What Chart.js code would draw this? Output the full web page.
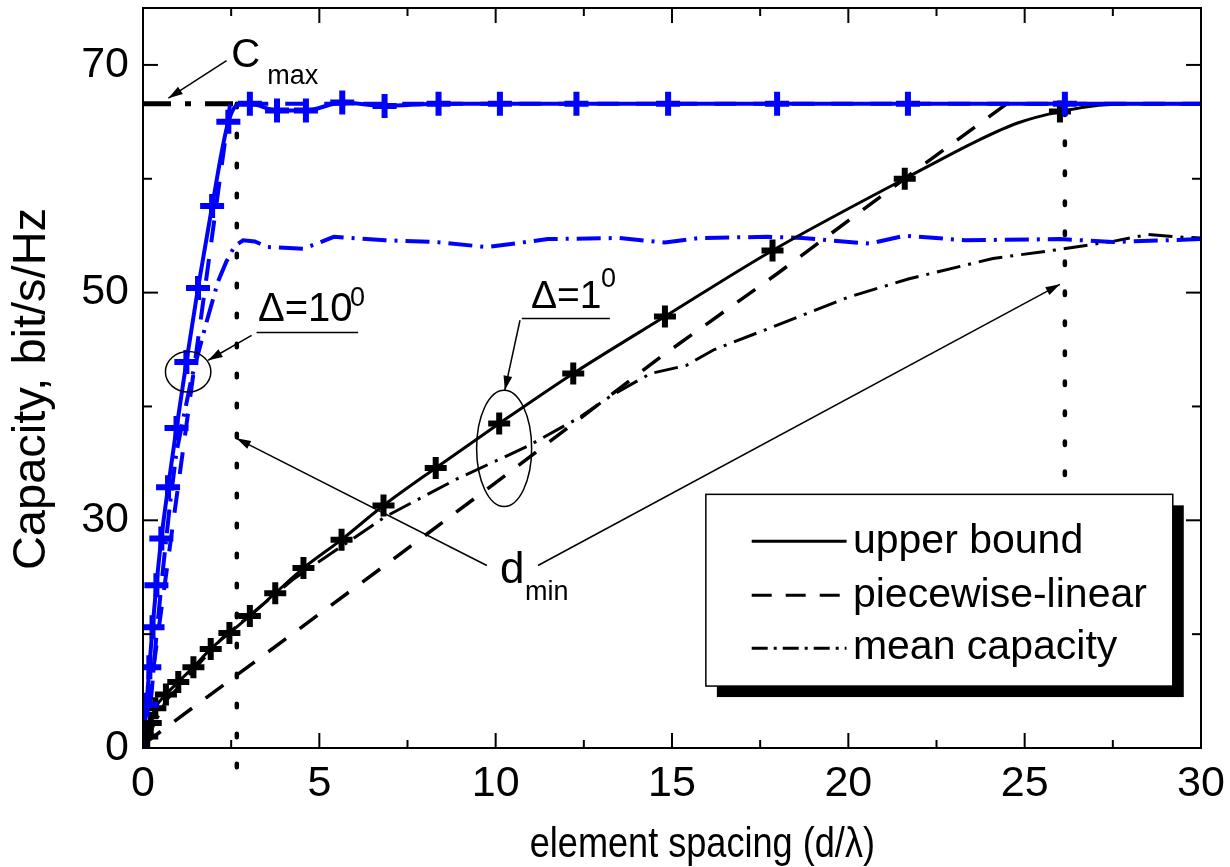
<!DOCTYPE html>
<html>
<head>
<meta charset="utf-8">
<script src="https://cdn.jsdelivr.net/npm/chart.js@4.4.0/dist/chart.umd.min.js"></script>
<style>
  html, body { margin: 0; padding: 0; background: #fff; }
  #chart { display: block; }
</style>
</head>
<body>
<canvas id="chart" width="1230" height="867"></canvas>
<script>
const FONT = "'Liberation Sans', Arial, Helvetica, sans-serif";
const BLUE = '#0000ff';

// axis ticks
const xMajor = [0, 5, 10, 15, 20, 25, 30];
const xMinor = [2.5, 7.5, 12.5, 17.5, 22.5, 27.5];
const yMajor = [10, 30, 50, 70];
const yMinor = [20, 40, 60];
const yTickText = ['0', '30', '50', '70'];

// delta = 1 deg (black)
const upper1X = [0, 0.12, 0.22, 0.35, 0.65, 1.0, 1.43, 1.92, 2.45, 3.03, 3.75, 4.55, 5.63, 6.82, 8.3, 10.1, 12.2, 14.8, 17.85, 21.6, 23.7, 24.8, 26.0, 27.1, 28.0, 30];
const upper1Y = [10.1, 11.0, 12.2, 13.5, 14.7, 15.8, 17.1, 18.7, 20.1, 21.6, 23.6, 25.8, 28.3, 31.3, 34.6, 38.5, 42.9, 47.9, 53.7, 60.0, 63.4, 64.9, 65.9, 66.45, 66.6, 66.6];
const upper1MarkX = [0.12, 0.22, 0.35, 0.65, 1.0, 1.43, 1.92, 2.45, 3.03, 3.75, 4.55, 5.63, 6.82, 8.3, 10.1, 12.2, 14.8, 17.85, 21.6, 26.0];
const upper1MarkY = [11.0, 12.2, 13.5, 14.7, 15.8, 17.1, 18.7, 20.1, 21.6, 23.6, 25.8, 28.3, 31.3, 34.6, 38.5, 42.9, 47.9, 53.7, 60.0, 65.9];
const pw1X = [0, 6.8, 10.3, 14.7, 18.0, 22.2, 24.5, 30];
const pw1Y = [10.3, 25.9, 34.0, 44.4, 51.7, 61.4, 66.6, 66.6];
const mean1X = [0, 0.64, 2.23, 4.25, 6.86, 8.88, 10.9, 12.36, 13.3, 14.4, 15.4, 16.2, 17.7, 20.0, 21.7, 24.1, 26.0, 27.5, 28.5, 29.3, 30];
const mean1Y = [10.1, 14.1, 19.6, 24.8, 30.3, 33.6, 36.5, 39.0, 41.0, 42.9, 43.6, 45.0, 46.8, 49.6, 51.2, 53.0, 53.8, 54.5, 55.1, 54.9, 54.8];

// delta = 10 deg (blue)
const upper10X = [0, 0.1, 0.18, 0.27, 0.38, 0.52, 0.71, 0.95, 1.23, 1.56, 1.96, 2.42, 2.75, 3.03, 3.8, 4.62, 5.65, 6.85, 8.38, 10.12, 12.29, 14.89, 17.98, 21.69, 26.14, 30];
const upper10Y = [10.1, 13.8, 17.1, 20.6, 24.3, 28.4, 32.9, 38.1, 43.9, 50.4, 57.6, 65.0, 66.6, 66.6, 66.0, 66.0, 66.7, 66.4, 66.6, 66.6, 66.6, 66.6, 66.6, 66.6, 66.6, 66.6];
const upper10MarkX = [0.1, 0.18, 0.27, 0.38, 0.52, 0.71, 0.95, 1.23, 1.56, 1.96, 2.42, 3.03, 3.8, 4.62, 5.65, 6.85, 8.38, 10.12, 12.29, 14.89, 17.98, 21.69, 26.14];
const upper10MarkY = [13.8, 17.1, 20.6, 24.3, 28.4, 32.9, 38.1, 43.9, 50.4, 57.6, 65.0, 66.6, 66.0, 66.0, 66.7, 66.4, 66.6, 66.6, 66.6, 66.6, 66.6, 66.6, 66.6];
const pw10X = [0, 1.0, 2.47, 30];
const pw10Y = [10.3, 33.1, 66.6, 66.6];
const mean10X = [0, 0.24, 0.38, 0.57, 0.76, 0.95, 1.37, 1.8, 2.13, 2.36, 2.6, 2.84, 3.17, 3.53, 4.55, 5.41, 6.86, 8.3, 9.75, 11.48, 13.5, 14.8, 15.8, 17.7, 18.7, 20.6, 21.6, 23.3, 26.0, 27.5, 30];
const mean10Y = [10.1, 14.7, 19.9, 25.8, 31.3, 36.0, 42.4, 47.4, 51.0, 52.7, 54.1, 54.6, 54.5, 54.0, 53.85, 54.9, 54.6, 54.45, 54.0, 54.7, 54.8, 54.4, 54.8, 54.9, 54.8, 54.3, 55.0, 54.6, 54.7, 54.45, 54.7];

// C_max level and d_min markers
const cmaxX = [0, 2.66];
const cmaxY = [66.6, 66.6];
const dminLoX = [2.66, 2.66];
const dminLoY = [66.6, 8.0];
const dminHiX = [26.14, 26.14];
const dminHiY = [65.9, 33.1];

const legendItems = ['upper bound', 'piecewise-linear', 'mean capacity'];

function pts(xs, ys) {
    return xs.map((x, i) => ({ x: x, y: ys[i] }));
}

function line(xs, ys, color, width, dash, extra) {
    return Object.assign({
        data: pts(xs, ys),
        borderColor: color,
        borderWidth: width,
        borderDash: dash,
        pointRadius: 0,
        fill: false,
        tension: 0
    }, extra || {});
}

function marks(xs, ys, color, r) {
    return {
        data: pts(xs, ys),
        showLine: false,
        pointStyle: 'cross',
        pointRadius: r,
        pointBorderWidth: 6,
        borderColor: color,
        backgroundColor: color
    };
}

const DASHDOT = [24, 8, 3, 8];
const DASHED = [22, 17];

function arrow(ctx, x1, y1, x2, y2) {
    ctx.beginPath();
    ctx.moveTo(x1, y1);
    ctx.lineTo(x2, y2);
    ctx.stroke();
    const ang = Math.atan2(y2 - y1, x2 - x1);
    const h = 15;
    ctx.beginPath();
    ctx.moveTo(x2, y2);
    ctx.lineTo(x2 - h * Math.cos(ang - 0.3), y2 - h * Math.sin(ang - 0.3));
    ctx.lineTo(x2 - h * Math.cos(ang + 0.3), y2 - h * Math.sin(ang + 0.3));
    ctx.closePath();
    ctx.fill();
}

// sx squeezes the glyphs sideways, the source figure uses a narrow face
function text(ctx, s, x, y, size, align, base, sx) {
    ctx.save();
    ctx.translate(x, y);
    ctx.scale(sx || 1, 1);
    ctx.font = size + 'px ' + FONT;
    ctx.textAlign = align || 'left';
    ctx.textBaseline = base || 'alphabetic';
    ctx.fillText(s, 0, 0);
    ctx.restore();
}

const decor = {
    id: 'decor',
    afterDatasetsDraw(chart) {
        const { ctx, chartArea: a, scales } = chart;
        const X = v => scales.x.getPixelForValue(v);
        const Y = v => scales.y.getPixelForValue(v);
        ctx.save();
        ctx.strokeStyle = '#000';
        ctx.fillStyle = '#000';

        // frame + inward ticks
        ctx.lineWidth = 2;
        ctx.strokeRect(a.left, a.top, a.right - a.left, a.bottom - a.top);
        const seg = (x1, y1, x2, y2) => { ctx.beginPath(); ctx.moveTo(x1, y1); ctx.lineTo(x2, y2); ctx.stroke(); };
        xMajor.forEach(v => { seg(X(v), a.bottom, X(v), a.bottom - 15); seg(X(v), a.top, X(v), a.top + 15); });
        xMinor.forEach(v => { seg(X(v), a.bottom, X(v), a.bottom - 8); seg(X(v), a.top, X(v), a.top + 8); });
        yMajor.forEach(v => { seg(a.left, Y(v), a.left + 15, Y(v)); seg(a.right, Y(v), a.right - 15, Y(v)); });
        yMinor.forEach(v => { seg(a.left, Y(v), a.left + 9, Y(v)); seg(a.right, Y(v), a.right - 9, Y(v)); });

        // C_max label
        ctx.lineWidth = 1.5;
        text(ctx, 'C', X(2.5), Y(69.8), 40);
        text(ctx, 'max', X(3.52), Y(68.33), 27);
        arrow(ctx, X(2.37), Y(70.38), X(0.72), Y(67.08));

        // delta = 10 deg
        text(ctx, '\u0394=10', X(3.26), Y(47.54), 40);
        text(ctx, '0', X(5.87), Y(48.86), 27);
        seg(X(3.22), Y(46.49), X(6.1), Y(46.49));
        arrow(ctx, X(3.08), Y(46.25), X(1.85), Y(44.06));
        ctx.beginPath();
        ctx.ellipse(X(1.28), Y(43.04), X(1.28 + 0.644) - X(1.28), Y(43.04) - Y(43.04 + 1.78), 0, 0, Math.PI * 2);
        ctx.stroke();

        // delta = 1 deg
        text(ctx, '\u0394=1', X(11.0), Y(48.68), 39);
        text(ctx, '0', X(12.99), Y(50.48), 27);
        seg(X(10.74), Y(47.72), X(13.24), Y(47.72));
        arrow(ctx, X(10.69), Y(47.57), X(10.26), Y(41.43));
        ctx.beginPath();
        ctx.ellipse(X(10.24), Y(36.32), X(10.24 + 0.78) - X(10.24), Y(36.32) - Y(36.32 + 5.11), 0, 0, Math.PI * 2);
        ctx.stroke();

        // d_min
        text(ctx, 'd', X(10.12), Y(24.47), 44);
        text(ctx, 'min', X(10.83), Y(22.98), 27);
        arrow(ctx, X(9.75), Y(26.03), X(2.65), Y(37.2));
        arrow(ctx, X(11.2), Y(26.03), X(26.0), Y(50.73));

        // legend box with drop shadow
        const bx = X(15.96), by = Y(32.28), bw = X(29.2) - bx, bh = Y(15.44) - by;
        ctx.fillRect(bx + 11, by + 11, bw, bh);
        ctx.fillStyle = '#fff';
        ctx.fillRect(bx, by, bw, bh);
        ctx.fillStyle = '#000';
        ctx.lineWidth = 1.5;
        ctx.strokeRect(bx, by, bw, bh);
        const rows = [28.16, 23.42, 18.77];
        const dashes = [[], [20, 14], [16, 6, 3, 6]];
        rows.forEach((r, i) => {
            ctx.lineWidth = 3;
            ctx.setLineDash(dashes[i]);
            seg(X(17.26), Y(r), X(19.95), Y(r));
            ctx.setLineDash([]);
            text(ctx, legendItems[i], X(20.13), Y(r), 41, 'left', 'middle');
        });

        // axis titles
        text(ctx, 'element spacing (d/\u03bb)', X(15.86), a.bottom + 109, 42, 'center', 'alphabetic', 0.86);
        ctx.save();
        ctx.translate(32, 389);
        ctx.rotate(-Math.PI / 2);
        text(ctx, 'Capacity, bit/s/Hz', 0, 0, 47, 'center', 'middle');
        ctx.restore();

        ctx.restore();
    }
};

new Chart(document.getElementById('chart'), {
    type: 'line',
    data: {
        datasets: [
            marks(upper10MarkX, upper10MarkY, BLUE, 12),
            marks(upper1MarkX, upper1MarkY, '#000', 11),
            line(upper10X, upper10Y, BLUE, 4, [], { cubicInterpolationMode: 'monotone' }),
            line(upper1X, upper1Y, '#000', 3, [], { cubicInterpolationMode: 'monotone' }),
            line(pw10X, pw10Y, BLUE, 4, DASHED),
            line(pw1X, pw1Y, '#000', 3.5, DASHED),
            line(mean10X, mean10Y, BLUE, 4, DASHDOT),
            line(mean1X, mean1Y, '#000', 3, DASHDOT),
            line(cmaxX, cmaxY, '#000', 5, [28, 14, 6, 14]),
            line(dminLoX, dminLoY, '#000', 4.5, [3.5, 26.5], { borderCapStyle: 'round', clip: false }),
            line(dminHiX, dminHiY, '#000', 4.5, [3.5, 26.5], { borderCapStyle: 'round' })
        ]
    },
    options: {
        responsive: false,
        animation: false,
        layout: { autoPadding: false, padding: { top: 8, right: 29, left: 0, bottom: 0 } },
        plugins: { legend: { display: false }, tooltip: { enabled: false } },
        scales: {
            x: {
                type: 'linear', min: 0, max: 30,
                grid: { display: false, drawTicks: false },
                border: { display: false },
                ticks: { stepSize: 5, color: '#000', padding: 10, maxRotation: 0, autoSkip: false, font: { family: FONT, size: 43 } },
                afterFit: s => { s.height = 119; s.paddingLeft = 0; s.paddingRight = 0; }
            },
            y: {
                type: 'linear', min: 10, max: 75,
                grid: { display: false, drawTicks: false },
                border: { display: false },
                ticks: {
                    stepSize: 10, color: '#000', padding: 14, autoSkip: false,
                    font: { family: FONT, size: 43 },
                    callback: v => { const i = yMajor.indexOf(v); return i < 0 ? '' : yTickText[i]; }
                },
                afterFit: s => { s.width = 143; s.paddingTop = 0; s.paddingBottom = 0; }
            }
        }
    },
    plugins: [decor]
});
</script>
</body>
</html>
